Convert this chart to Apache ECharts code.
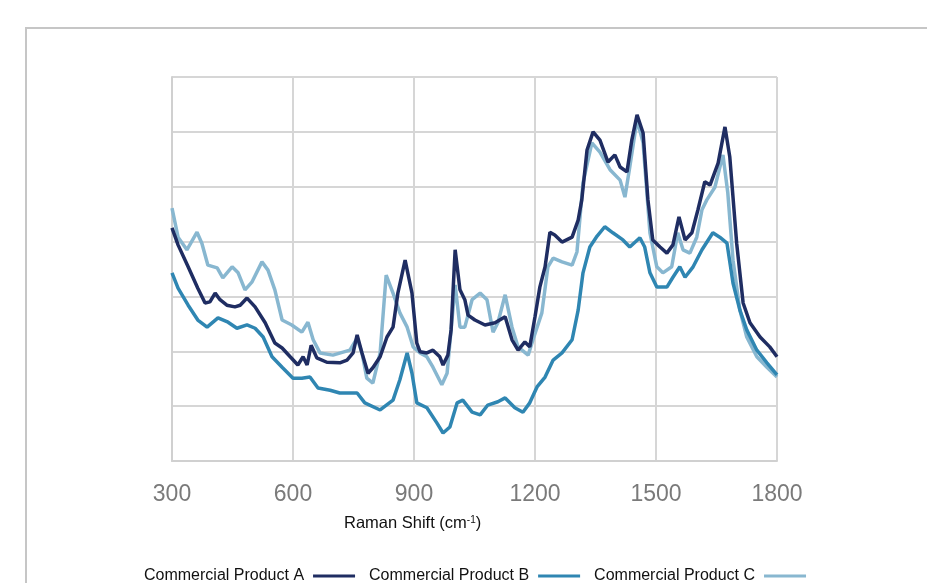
<!DOCTYPE html>
<html>
<head>
<meta charset="utf-8">
<script src="https://cdn.jsdelivr.net/npm/echarts@6/dist/echarts.min.js"></script>
<style>html,body{margin:0;padding:0;background:#fff;}#c{width:927px;height:583px;}</style>
</head>
<body>
<div id="c"></div>
<script>
const seriesNames = ['Commercial Product A', 'Commercial Product B', 'Commercial Product C'];
const xTicks = [300, 600, 900, 1200, 1500, 1800];

const productA = [[300,4250],[315,3940],[340,3540],[364,3150],[382,2880],[394,2900],[407,3060],[419,2940],[436,2840],[456,2810],[469,2840],[486,2970],[506,2810],[531,2520],[555,2150],[573,2060],[593,1900],[612,1750],[625,1900],[635,1750],[645,2110],[659,1880],[684,1800],[716,1790],[734,1840],[749,1970],[759,2300],[771,1970],[786,1600],[798,1700],[816,1900],[833,2260],[848,2440],[860,3060],[878,3660],[895,3060],[907,2150],[915,1990],[932,1970],[947,2020],[964,1900],[972,1750],[984,1930],[992,2390],[1002,3850],[1014,3120],[1026,2940],[1034,2660],[1051,2570],[1076,2480],[1101,2520],[1126,2630],[1143,2210],[1158,2020],[1175,2170],[1187,2080],[1200,2630],[1212,3170],[1225,3540],[1237,4170],[1249,4120],[1267,3990],[1292,4080],[1307,4390],[1316,4760],[1329,5670],[1344,6000],[1361,5850],[1381,5450],[1398,5580],[1411,5360],[1428,5270],[1440,5850],[1453,6310],[1468,5980],[1480,4760],[1492,4030],[1510,3900],[1527,3790],[1542,3940],[1557,4450],[1572,4030],[1589,4160],[1604,4580],[1621,5090],[1634,5030],[1654,5430],[1671,6090],[1683,5540],[1700,3970],[1716,2880],[1733,2520],[1758,2260],[1782,2080],[1800,1900]];

const productB = [[300,3430],[315,3150],[340,2840],[364,2570],[387,2440],[414,2610],[439,2530],[461,2420],[486,2480],[506,2420],[526,2260],[548,1900],[573,1710],[600,1510],[622,1510],[642,1530],[662,1330],[692,1290],[716,1240],[759,1240],[778,1060],[816,930],[848,1110],[865,1480],[883,1970],[895,1600],[907,1060],[932,970],[957,690],[972,510],[989,620],[1007,1060],[1021,1110],[1044,890],[1064,840],[1083,1020],[1108,1080],[1126,1150],[1150,970],[1170,890],[1187,1060],[1205,1350],[1225,1530],[1245,1840],[1267,1970],[1292,2210],[1307,2750],[1319,3430],[1336,3900],[1354,4100],[1373,4270],[1393,4160],[1418,4030],[1435,3900],[1460,4070],[1472,3900],[1485,3430],[1502,3170],[1527,3170],[1542,3350],[1559,3540],[1572,3350],[1592,3540],[1614,3850],[1641,4160],[1658,4080],[1676,3970],[1691,3240],[1708,2750],[1725,2390],[1750,2020],[1775,1790],[1800,1570]];

const productC = [[300,4610],[315,4080],[337,3850],[362,4170],[374,3970],[389,3570],[412,3520],[426,3340],[449,3540],[464,3430],[481,3120],[498,3260],[523,3630],[538,3480],[555,3120],[573,2570],[597,2480],[622,2350],[637,2530],[650,2210],[667,1970],[699,1930],[741,2020],[759,2240],[771,1970],[783,1510],[798,1420],[816,1970],[831,3390],[848,3060],[865,2700],[883,2440],[898,2080],[915,1970],[932,1900],[947,1710],[969,1390],[982,1600],[992,2390],[1002,3210],[1014,2440],[1026,2440],[1044,2940],[1064,3060],[1081,2940],[1096,2350],[1108,2520],[1126,3030],[1143,2440],[1158,2080],[1183,1930],[1195,2210],[1217,2700],[1232,3540],[1245,3700],[1267,3630],[1292,3570],[1304,3810],[1311,4390],[1319,5070],[1341,5800],[1361,5630],[1386,5310],[1411,5120],[1423,4810],[1435,5360],[1453,6220],[1468,5800],[1485,4160],[1502,3540],[1517,3430],[1539,3540],[1554,4160],[1567,3850],[1584,3790],[1601,4080],[1614,4580],[1626,4760],[1646,4990],[1666,5580],[1678,4890],[1691,3660],[1708,2750],[1725,2260],[1750,1900],[1775,1710],[1800,1530]];

const colors = ['#1f2d62', '#2f86b2', '#88b7d0'];
const fontFam = '"Liberation Sans", Arial, sans-serif';

const chart = echarts.init(document.getElementById('c'), null, {renderer: 'canvas'});
chart.setOption({
  animation: false,
  backgroundColor: '#ffffff',
  grid: {left: 172, right: 150, top: 77, bottom: 122, containLabel: false},
  xAxis: {
    type: 'value', min: 300, max: 1800, interval: 300,
    axisLine: {show: true, lineStyle: {color: '#d0d0d0', width: 2}},
    axisTick: {show: false},
    splitLine: {show: true, lineStyle: {color: '#d6d6d6', width: 2}},
    axisLabel: {
      margin: 22, color: '#7a7a7a', fontSize: 23, fontFamily: fontFam,
      customValues: xTicks, formatter: v => String(v)
    }
  },
  yAxis: {
    type: 'value', min: 0, max: 7000, interval: 1000,
    axisLine: {show: true, lineStyle: {color: '#d0d0d0', width: 2}},
    axisTick: {show: false},
    axisLabel: {show: false},
    splitLine: {show: true, lineStyle: {color: '#d6d6d6', width: 2}}
  },
  legend: {
    left: 144, top: 568, padding: 0, align: 'right', itemGap: 14, itemWidth: 42, itemHeight: 3,
    icon: 'rect', data: seriesNames,
    textStyle: {fontFamily: fontFam, fontSize: 16, color: '#111', padding: [0, 4, 0, 0]}
  },
  graphic: [
    {type: 'rect', shape: {x: 26, y: 28, width: 1000, height: 800},
     style: {fill: 'none', stroke: '#c6c6c6', lineWidth: 2}, z: -10},
    {type: 'text', left: 344, top: 515,
     style: {
       text: '{n|Raman Shift (cm}{s|-1}{n|)}',
       rich: {
         n: {fontFamily: fontFam, fontSize: 16.5, fill: '#111'},
         s: {fontFamily: fontFam, fontSize: 10, fill: '#111', verticalAlign: 'top', padding: [0, 0, 7, 0]}
       }
     }}
  ],
  series: [
    {name: seriesNames[2], type: 'line', data: productC, symbol: 'none', z: 2,
     lineStyle: {color: colors[2], width: 3.5}, itemStyle: {color: colors[2]}},
    {name: seriesNames[1], type: 'line', data: productB, symbol: 'none', z: 3,
     lineStyle: {color: colors[1], width: 3.5}, itemStyle: {color: colors[1]}},
    {name: seriesNames[0], type: 'line', data: productA, symbol: 'none', z: 4,
     lineStyle: {color: colors[0], width: 3.5}, itemStyle: {color: colors[0]}}
  ]
});
</script>
</body>
</html>
